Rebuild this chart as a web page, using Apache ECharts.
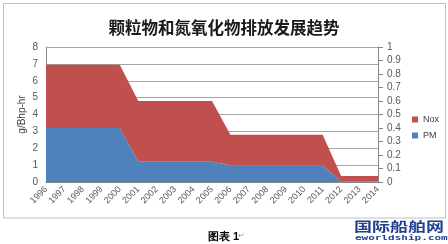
<!DOCTYPE html>
<html>
<head>
<meta charset="utf-8">
<script src="https://cdn.jsdelivr.net/npm/echarts@6/dist/echarts.min.js"></script>
<style>
html,body{margin:0;padding:0;background:#fff;}
#c{width:448px;height:244px;}
</style>
</head>
<body>
<div id="c"></div>
<script>
var categories = ['1996','1997','1998','1999','2000','2001','2002','2003','2004','2005','2006','2007','2008','2009','2010','2011','2012','2013','2014'];
var pmValues  = [3.2,3.2,3.2,3.2,3.2, 1.2,1.2,1.2,1.2,1.2, 1.0,1.0,1.0,1.0,1.0,1.0, 0.02,0.02,0.02];
var noxValues = [3.75,3.75,3.75,3.75,3.75, 3.6,3.6,3.6,3.6,3.6, 1.8,1.8,1.8,1.8,1.8,1.8, 0.33,0.33,0.33];
var titleText = '颗粒物和氮氧化物排放发展趋势';
var yAxisName = 'g/Bhp-hr';
var legendNames = ['Nox','PM'];

var chart = echarts.init(document.getElementById('c'), null, {renderer:'canvas'});
var font = '"Liberation Sans", Arial, sans-serif';
chart.setOption({
  animation:false,
  backgroundColor:'#fff',
  title:{
    text:titleText, left:'center', top:14,
    textStyle:{fontSize:16.5, fontWeight:'bold', color:'#1a1a1a', fontFamily:'"Noto Sans CJK SC"'}
  },
  legend:{
    data:legendNames, orient:'vertical', left:407, top:110,
    icon:'rect', itemWidth:6, itemHeight:6, itemGap:7,
    textStyle:{fontSize:9, color:'#404040', fontFamily:font}
  },
  grid:{left:46, right:70, top:47, bottom:62, containLabel:false},
  xAxis:{
    type:'category', data:categories, boundaryGap:false,
    axisLine:{lineStyle:{color:'#868686'}},
    axisTick:{show:false},
    axisLabel:{interval:0, rotate:45, fontSize:9, color:'#595959', margin:6, fontFamily:font}
  },
  yAxis:[{
    type:'value', min:0, max:8, interval:1,
    name:yAxisName, nameLocation:'middle', nameGap:19, nameMoveOverlap:false,
    nameTextStyle:{fontSize:10, color:'#404040', fontFamily:font},
    axisLine:{show:true, lineStyle:{color:'#868686'}},
    axisTick:{show:false},
    axisLabel:{fontSize:10, color:'#595959', margin:8, fontFamily:font},
    splitLine:{lineStyle:{color:'#a6a6a6'}}
  },{
    type:'value', min:0, max:1, interval:0.1, position:'right',
    axisLine:{show:true, lineStyle:{color:'#868686'}},
    axisTick:{show:true, length:5, lineStyle:{color:'#868686'}},
    axisLabel:{fontSize:10, color:'#595959', margin:9, fontFamily:font},
    splitLine:{show:false}
  }],
  series:[{
    name:'PM', type:'line', stack:'a', data:pmValues, yAxisIndex:0,
    symbol:'none', lineStyle:{width:0}, areaStyle:{color:'#4F81BD', opacity:1},
    itemStyle:{color:'#4F81BD'}
  },{
    name:'Nox', type:'line', stack:'a', data:noxValues, yAxisIndex:0,
    symbol:'none', lineStyle:{width:0}, areaStyle:{color:'#C0504D', opacity:1},
    itemStyle:{color:'#C0504D'}
  }],
  graphic:[
    {type:'rect', shape:{x:3.5, y:3.5, width:442, height:214.5}, style:{fill:'none', stroke:'#bfbfbf', lineWidth:1}, silent:true},
    {type:'text', left:208, top:231, style:{text:'图表 1', fontSize:11, fontWeight:'bold', fill:'#000', font:'bold 11px "Noto Sans CJK SC"'}},
    {type:'text', left:238, top:232, style:{text:'↵', fontSize:8, fill:'#999', font:'8px "DejaVu Sans"'}},
    {type:'text', x:354, y:220, scaleY:0.72, style:{text:'国际船舶网', font:'bold 18px "Noto Sans CJK SC"', fill:'#1f3f8f'}},
    {type:'text', x:355, y:234, scaleY:0.7, style:{text:'eworldship.com', font:'bold 11px "DejaVu Sans Mono"', fill:'#1f3f8f'}}
  ]
});
</script>
</body>
</html>
